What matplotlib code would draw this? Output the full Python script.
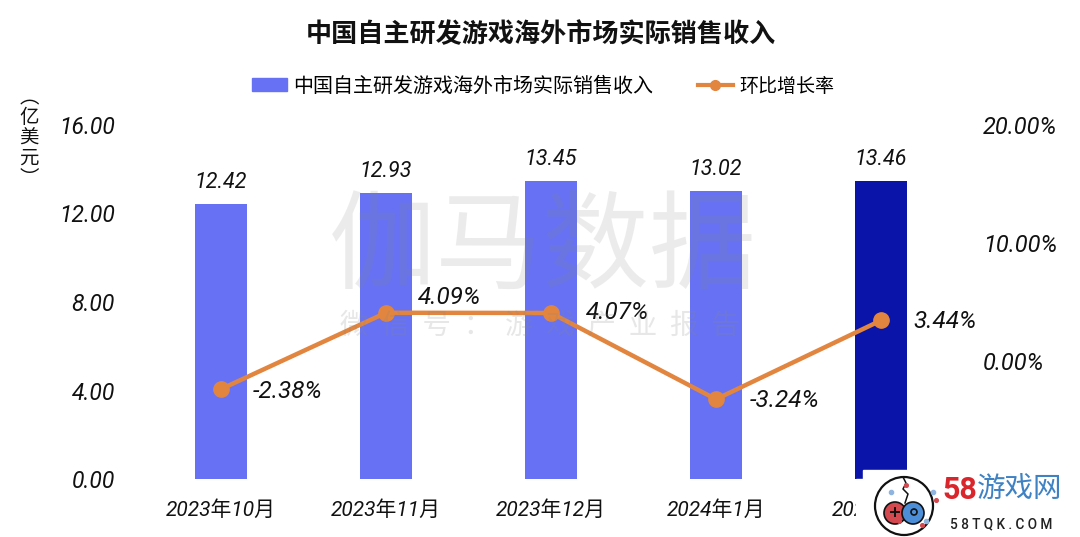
import matplotlib
matplotlib.use("Agg")
import matplotlib.pyplot as plt
from matplotlib.lines import Line2D
from matplotlib.patches import Patch, Circle, Rectangle, Ellipse

plt.rcParams["font.family"] = ["Roboto", "Noto Sans CJK SC", "DejaVu Sans"]

# ----------------------------
# Data
# ----------------------------
months = ["2023年10月", "2023年11月", "2023年12月", "2024年1月", "2024年2月"]
revenue = [12.42, 12.93, 13.45, 13.02, 13.46]
growth = [-2.38, 4.09, 4.07, -3.24, 3.44]
left_ticks = [0, 4, 8, 12, 16]
right_ticks = [0, 10, 20]
title = "中国自主研发游戏海外市场实际销售收入"
line_name = "环比增长率"

# label offsets for the growth line, in points
growth_offsets = [(23, -2), (23, 11), (25, 0), (24, -1), (23, -1)]

BLUE = "#6672F3"
DARK = "#0A14A8"
ORANGE = "#E2853F"
INK = "#111111"

# ----------------------------
# Chart
# ----------------------------
fig = plt.figure(figsize=(10.8, 5.37), dpi=100)
ax = fig.add_axes([138.5 / 1080, (537 - 479) / 537, 825 / 1080, 354 / 537])
x = range(len(months))

colors = [BLUE] * 4 + [DARK]
ax.bar(x, revenue, width=0.315, color=colors, zorder=1)
ax.set_xlim(-0.5, 4.5)
ax.set_ylim(0, 16)
ax.set_xticks(list(x), months, style="italic", fontsize=15, color=INK)
ax.set_yticks(left_ticks, [f"{v:.2f}" for v in left_ticks], style="italic", fontsize=16.5, color=INK)
ax.tick_params(axis="both", length=0)
ax.tick_params(axis="y", pad=17)
ax.tick_params(axis="x", pad=15)

for i, v in enumerate(revenue):
    ax.annotate(f"{v:.2f}", (i, v), xytext=(0, 15.5), textcoords="offset points",
                ha="center", va="center", style="italic", fontsize=15.5, color=INK)

ax2 = ax.twinx()
ax2.plot(x, growth, color=ORANGE, lw=3.2, marker="o", ms=11, zorder=3)
ax2.set_ylim(-10, 20)
ax2.set_yticks(right_ticks, [f"{v:.2f}%" for v in right_ticks], style="italic", fontsize=17, color=INK)
ax2.tick_params(axis="y", length=0, pad=14)

for i, v in enumerate(growth):
    ax2.annotate(f"{v:.2f}%", (i, v), xytext=growth_offsets[i], textcoords="offset points",
                 ha="left", va="center", style="italic", fontsize=17.5, color=INK)

for a in (ax, ax2):
    for s in a.spines.values():
        s.set_visible(False)

fig.text(541 / 1080, 1 - 34 / 537, title, ha="center", va="center", fontsize=18.8, fontweight="bold", color=INK)

handles = [Patch(color=BLUE, label=title),
           Line2D([0], [0], color=ORANGE, lw=3, marker="o", ms=7, label=line_name)]
leg = fig.legend(handles=handles, ncol=2, frameon=False, fontsize=14.4, loc="center",
                 bbox_to_anchor=(543 / 1080, 1 - 86 / 537), handlelength=1.75, handleheight=0.6,
                 handletextpad=0.35, columnspacing=2.2)
leg.get_texts()[1].set_fontsize(13.7)

fig.text(29 / 1080, 1 - 138 / 537, "︵\n亿\n美\n元\n︶", ha="center", va="center",
         fontsize=14, color=INK, linespacing=0.95, family=["Noto Sans CJK SC", "DejaVu Sans"])

# ----------------------------
# Watermark and logo (pixel coordinates)
# ----------------------------
top = fig.add_axes([0, 0, 1, 1], zorder=5)
top.set_xlim(0, 1080)
top.set_ylim(537, 0)
top.axis("off")

top.text(543, 249, "伽马数据", ha="center", va="center", fontsize=77, color="#888888", alpha=0.16,
         family=["Noto Sans CJK SC"], fontweight="light")
top.text(540, 325, "微  信  号  ：  游  戏  产  业  报  告", ha="center", va="center", fontsize=20.5,
         color="#888888", alpha=0.2, family=["Noto Sans CJK SC"])

top.add_patch(Rectangle((863, 470), 217, 67, color="white", zorder=6))
top.add_patch(Rectangle((856, 479), 224, 58, color="white", zorder=6))
top.add_patch(Circle((904, 506), 29, fc="white", ec="#111111", lw=1.6, zorder=7))
top.add_patch(Ellipse((895, 513), 22, 22, fc="#D4484F", ec="#111111", lw=1.2, zorder=8))
top.add_patch(Ellipse((913, 513), 22, 22, fc="#4C8FD8", ec="#111111", lw=1.2, zorder=8))
top.plot([905, 908, 903, 906, 903], [503, 494, 489, 483, 477], color="#111111", lw=1.1, zorder=7)
top.plot([891, 899], [512, 512], color="#111111", lw=1.4, zorder=9)
top.plot([895, 895], [508, 516], color="#111111", lw=1.4, zorder=9)
top.add_patch(Circle((914, 512), 3, fc="none", ec="#111111", lw=1.2, zorder=9))
top.scatter([891, 933, 926], [492, 492, 521], s=9, color="#8FB4DE", zorder=9)
top.scatter([906, 936, 899, 922], [485, 500, 521, 525], s=7, color="#D4484F", zorder=9)

top.text(942, 490, "58", ha="left", va="center", fontsize=22, fontweight="bold", color="#D8262C", zorder=9,
         family=["Roboto"])
top.text(977, 489, "游戏网", ha="left", va="center", fontsize=20.5, color="#3E82C4", zorder=9,
         family=["Noto Sans CJK SC"])
top.text(1001, 524, "5 8 T Q K . C O M", ha="center", va="center", fontsize=9.8, color="#222222", zorder=9,
         family=["Roboto"], fontweight="medium")

plt.savefig("out.png", dpi=100)
plt.close()
